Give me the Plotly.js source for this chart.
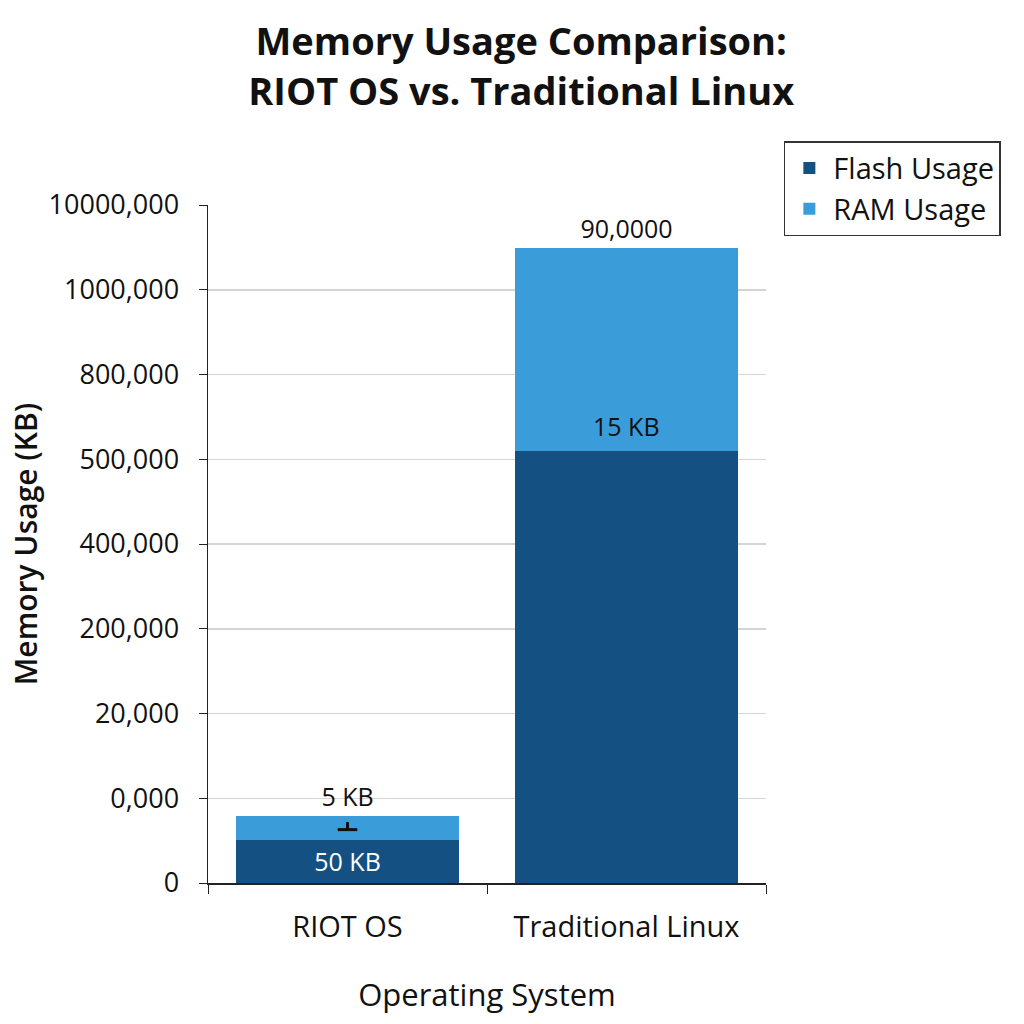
<!DOCTYPE html>
<html>
<head>
<meta charset="utf-8">
<script src="https://cdn.plot.ly/plotly-3.0.1.min.js"></script>
<style>
	html, body { margin: 0; padding: 0; background: #fff; }
	#chart { width: 1024px; height: 1024px; }
</style>
</head>
<body>
<div id="chart"></div>
<script>
// values are in axis-step units (the axis labels are not evenly scaled)
const categories = ['RIOT OS', 'Traditional Linux']
const flashVals = [0.51, 5.1]
const ramVals = [0.28, 2.39]
const flashLabels = ['50 KB', '']
const ramLabels = ['5 KB', '90,0000']
const linuxMidLabel = '15 KB'

const tickVals = [0, 1, 2, 3, 4, 5, 6, 7, 8]
const tickText = ['0', '0,000', '20,000', '200,000', '400,000', '500,000', '800,000', '1000,000', '10000,000']

// small ⊥ mark on the RIOT bar: foot and stem height
const markFoot = [0.63]
const markStem = [0.09]

const FLASH = '#145081'
const RAM = '#3a9dd9'
const FONT = '"Open Sans", "Noto Sans", sans-serif'

const flash = {
	type: 'bar',
	name: 'Flash Usage',
	x: categories,
	y: flashVals,
	marker: { color: FLASH },
	text: flashLabels,
	textposition: 'inside',
	insidetextanchor: 'middle',
	textfont: { family: FONT, size: 25, color: '#ffffff' },
	hoverinfo: 'skip'
}

const ram = {
	type: 'bar',
	name: 'RAM Usage',
	x: categories,
	y: ramVals,
	marker: { color: RAM },
	text: ramLabels,
	textposition: 'outside',
	cliponaxis: false,
	textfont: { family: FONT, size: 25, color: '#111111' },
	hoverinfo: 'skip'
}

const mark = {
	type: 'scatter',
	mode: 'markers',
	x: [categories[0]],
	y: markFoot,
	marker: { symbol: 'line-ew', size: 14, line: { width: 3, color: '#111' } },
	error_y: { type: 'data', symmetric: false, array: markStem, arrayminus: [0], color: '#111', thickness: 3, width: 0 },
	showlegend: false,
	hoverinfo: 'skip'
}

const layout = {
	width: 1024,
	height: 1024,
	barmode: 'stack',
	bargap: 0.2,
	paper_bgcolor: '#ffffff',
	plot_bgcolor: '#ffffff',
	margin: { l: 208, r: 258, t: 205, b: 141 },
	font: { family: FONT, color: '#111' },
	title: {
		text: '<b>Memory Usage Comparison:<br>RIOT OS vs. Traditional Linux</b>',
		font: { family: FONT, size: 38, color: '#111' },
		x: 0.509, xref: 'container', xanchor: 'center',
		y: 0.946, yref: 'container', yanchor: 'middle'
	},
	xaxis: {
		type: 'category',
		showline: true,
		linecolor: '#222',
		linewidth: 1.5,
		ticks: 'outside',
		tickson: 'boundaries',
		ticklen: 9,
		tickcolor: '#222',
		ticklabelstandoff: 18,
		tickfont: { family: FONT, size: 29, color: '#111' },
		title: { text: 'Operating System', font: { family: FONT, size: 31, color: '#111' }, standoff: 40 }
	},
	yaxis: {
		range: [0, 8],
		tickvals: tickVals,
		ticktext: tickText,
		showline: true,
		linecolor: '#222',
		linewidth: 1.5,
		ticks: 'outside',
		ticklen: 8,
		tickcolor: '#222',
		ticklabelstandoff: 14,
		showgrid: true,
		gridcolor: '#d4d4d4',
		gridwidth: 1.5,
		zeroline: false,
		tickfont: { family: FONT, size: 27, color: '#111' },
		title: { text: 'Memory Usage (KB)', font: { family: FONT, size: 30, weight: 600, color: '#111' }, standoff: 2 }
	},
	legend: {
		x: 1.032, y: 1.094, xanchor: 'left', yanchor: 'top',
		bordercolor: '#333', borderwidth: 1.5,
		bgcolor: '#fff',
		traceorder: 'normal',
		itemwidth: 38,
		font: { family: FONT, size: 29, color: '#111' }
	},
	annotations: [{
		x: categories[1], y: flashVals[1],
		xref: 'x', yref: 'y',
		text: linuxMidLabel,
		showarrow: false,
		yanchor: 'bottom', yshift: 6,
		font: { family: FONT, size: 25, color: '#111' }
	}]
}

Plotly.newPlot('chart', [flash, ram, mark], layout, { displayModeBar: false, staticPlot: true })
</script>
</body>
</html>
